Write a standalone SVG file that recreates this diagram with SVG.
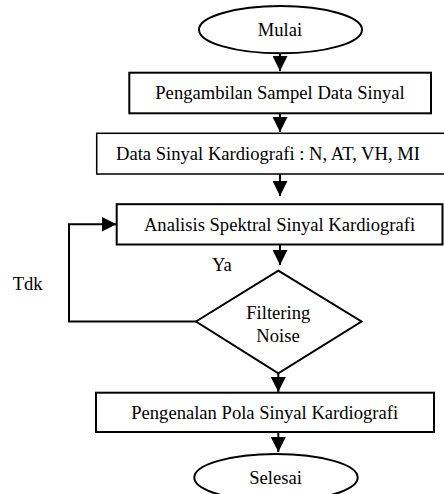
<svg xmlns="http://www.w3.org/2000/svg" width="444" height="494" viewBox="0 0 444 494">
  <style>
    .shape { fill: #ffffff; stroke: #000000; stroke-width: 2; }
    .thin { fill: #ffffff; stroke: #000000; stroke-width: 1.5; }
    .lbl { font-family: "Liberation Serif", "Times New Roman", serif; font-size: 18.6px; fill: #000000; }
    .mid { text-anchor: middle; }
    .conn { fill: none; stroke: #000000; stroke-width: 2; }
  </style>
  <defs>
    <marker id="arrow" markerUnits="userSpaceOnUse" markerWidth="15" markerHeight="15" refX="15" refY="7.5" orient="auto">
      <path d="M0,0 L15,7.5 L0,15 Z" fill="#000000"/>
    </marker>
  </defs>
  <rect width="444" height="494" fill="#ffffff"/>

  <g id="connectors">
    <line class="conn" x1="280" y1="53" x2="280" y2="71" marker-end="url(#arrow)"/>
    <line class="conn" x1="280" y1="113" x2="280" y2="132" marker-end="url(#arrow)"/>
    <line class="conn" x1="280" y1="174" x2="280" y2="196" marker-end="url(#arrow)"/>
    <line class="conn" x1="280" y1="244.5" x2="280" y2="265" marker-end="url(#arrow)"/>
    <line class="conn" x1="278.3" y1="373.3" x2="278.3" y2="392" marker-end="url(#arrow)"/>
    <line class="conn" x1="278.3" y1="432" x2="278.3" y2="452" marker-end="url(#arrow)"/>
    <polyline class="conn" points="196,321.5 69,321.5 69,224.3 116.5,224.3" marker-end="url(#arrow)"/>
    <text class="lbl" x="212" y="271">Ya</text>
    <text class="lbl" x="12.7" y="290">Tdk</text>
  </g>

  <g id="mulai">
    <ellipse class="shape" cx="280.5" cy="29.7" rx="81.5" ry="23.6"/>
    <text class="lbl mid" x="280" y="36">Mulai</text>
  </g>

  <g id="pengambilan">
    <rect class="shape" x="129.3" y="72.7" width="301.7" height="40.6"/>
    <text class="lbl mid" x="280" y="99">Pengambilan Sampel Data Sinyal</text>
  </g>

  <g id="data-sinyal">
    <rect class="thin" x="96.7" y="133.3" width="360" height="40.7"/>
    <text class="lbl mid" x="268" y="159.5">Data Sinyal Kardiografi : N, AT, VH, MI</text>
  </g>

  <g id="analisis">
    <rect class="shape" x="116.7" y="204.2" width="325.8" height="40.3"/>
    <text class="lbl mid" x="279.5" y="230.5">Analisis Spektral Sinyal Kardiografi</text>
  </g>

  <g id="filtering">
    <polygon class="shape" points="278.3,270.7 361.5,321.5 278.3,373.3 196,321.5"/>
    <text class="lbl mid" x="278.3" y="318.5">Filtering</text>
    <text class="lbl mid" x="278" y="341.5">Noise</text>
  </g>

  <g id="pengenalan">
    <rect class="shape" x="96" y="392.7" width="338" height="39.3"/>
    <text class="lbl mid" x="264.7" y="418.5">Pengenalan Pola Sinyal Kardiografi</text>
  </g>

  <g id="selesai">
    <ellipse class="shape" cx="276" cy="477.6" rx="81.7" ry="23.6"/>
    <text class="lbl mid" x="275.5" y="483.5">Selesai</text>
  </g>
</svg>
